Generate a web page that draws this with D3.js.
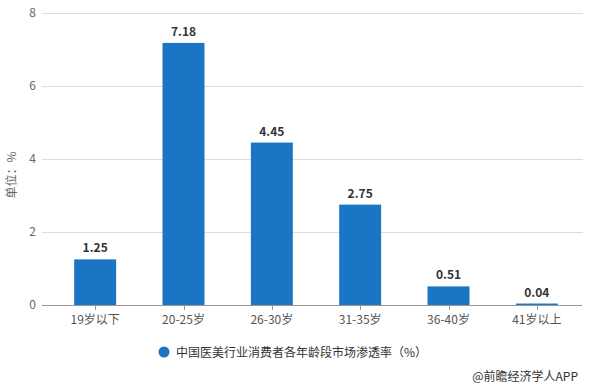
<!DOCTYPE html>
<html><head><meta charset="utf-8">
<script src="https://cdn.jsdelivr.net/npm/d3@7"></script>
<style>body{margin:0;background:#fff;}svg{display:block;font-family:"Microsoft YaHei","Noto Sans CJK SC",sans-serif;}</style>
</head><body>
<svg id="c" width="589" height="388"></svg>
<script>
const categories = ["19岁以下","20-25岁","26-30岁","31-35岁","36-40岁","41岁以上"];
const values = [1.25, 7.18, 4.45, 2.75, 0.51, 0.04];
const yTicks = [0, 2, 4, 6, 8];
const seriesName = "中国医美行业消费者各年龄段市场渗透率（%）";
const unitLabel = "单位：%";
const sourceText = "@前瞻经济学人APP";

const svg = d3.select("#c");
const color = "#1a75c5";
const y = d3.scaleLinear().domain([0, 8]).range([305, 13]);
const x = d3.scaleBand().domain(categories).range([51, 581]).paddingInner(0.525).paddingOuter(0.2625);
const xc = d => x(d) + x.bandwidth() / 2;

// gridlines
svg.append("g").selectAll("line").data(yTicks.filter(t => t > 0)).join("line")
  .attr("x1", 42).attr("x2", 583).attr("y1", d => y(d) + 0.5).attr("y2", d => y(d) + 0.5)
  .attr("stroke", "#dcdcdc").attr("stroke-width", 1);

// y labels
svg.append("g").selectAll("text").data(yTicks).join("text")
  .attr("x", 36).attr("y", d => y(d)).attr("dy", "0.35em").attr("text-anchor", "end")
  .attr("font-size", 12).attr("fill", "#666").text(d => d);

// bars
svg.append("g").selectAll("rect").data(values).join("rect")
  .attr("x", (d, i) => x(categories[i])).attr("width", x.bandwidth())
  .attr("y", d => y(d)).attr("height", d => y(0) - y(d)).attr("fill", color);

// value labels
svg.append("g").selectAll("text").data(values).join("text")
  .attr("x", (d, i) => xc(categories[i])).attr("y", d => y(d) - 7)
  .attr("text-anchor", "middle").attr("font-size", 12).attr("font-weight", "bold")
  .attr("fill", "#333").text(d => d.toFixed(2));

// x axis
svg.append("line").attr("x1", 42).attr("x2", 582).attr("y1", 305.5).attr("y2", 305.5)
  .attr("stroke", "#999");
svg.append("g").selectAll("line").data(categories).join("line")
  .attr("x1", d => Math.round(xc(d)) + 0.5).attr("x2", d => Math.round(xc(d)) + 0.5)
  .attr("y1", 305).attr("y2", 310).attr("stroke", "#999");
svg.append("g").selectAll("text").data(categories).join("text")
  .attr("x", d => xc(d)).attr("y", 324).attr("text-anchor", "middle")
  .attr("font-size", 12).attr("fill", "#555").text(d => d);

// unit label
svg.append("text").attr("transform", "translate(16,175) rotate(-90)")
  .attr("text-anchor", "middle").attr("font-size", 12).attr("fill", "#666").text(unitLabel);

// legend
svg.append("circle").attr("cx", 164).attr("cy", 352).attr("r", 5.5).attr("fill", color);
svg.append("text").attr("x", 176).attr("y", 356.5).attr("font-size", 12).attr("fill", "#333").text(seriesName);

// source
svg.append("text").attr("x", 578).attr("y", 381).attr("text-anchor", "end")
  .attr("font-size", 12).attr("fill", "#333").text(sourceText);
</script>
</body></html>
